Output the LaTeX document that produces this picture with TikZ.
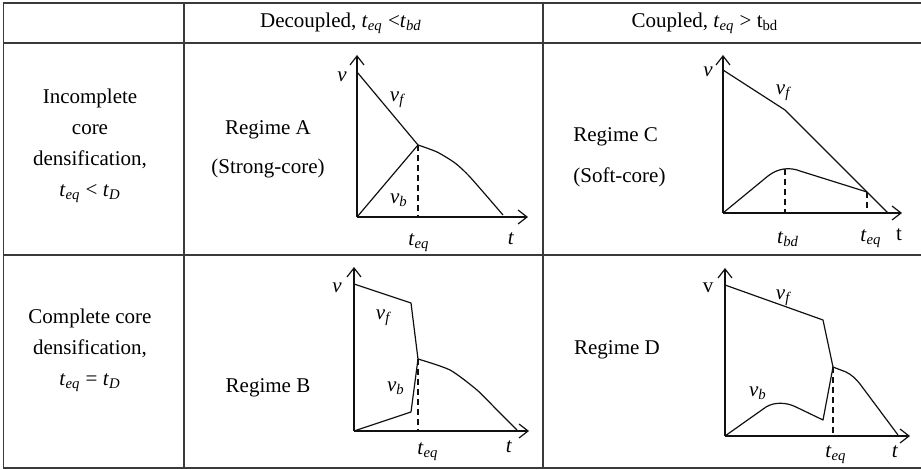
\documentclass[tikz,border=0pt]{standalone}
\usepackage{fontspec}
\setmainfont{Liberation Serif}
\usepackage{xcolor}
\usepackage{tikz}
\usetikzlibrary{arrows.meta}
\definecolor{GridGray}{HTML}{3A3A3A}
\definecolor{CurveBlack}{HTML}{111111}
\newcommand{\tsb}[2]{\textit{#1}\textsubscript{\textit{#2}}}

\begin{document}
\begin{tikzpicture}[
  x=0.5pt, y=-0.5pt,
  celltext/.style={align=center, inner sep=0pt, font=\fontsize{10.5}{15.5}\selectfont},
  plotlabel/.style={inner sep=0pt, font=\fontsize{10.5}{12}\selectfont},
  gridline/.style={draw=GridGray, line width=0.85pt},
  axisline/.style={-{Straight Barb[length=4.5pt,width=7pt]}, line width=0.6pt, draw=CurveBlack},
  curveline/.style={line width=0.6pt, draw=CurveBlack, line join=round},
  guideline/.style={dashed, dash pattern=on 3pt off 2pt, line width=0.55pt, draw=CurveBlack}
]
\useasboundingbox (0,0) rectangle (921,470);
% table grid
\draw[gridline] (3,3) -- (921,3);
\draw[gridline] (3,43) -- (921,43);
\draw[gridline] (3,255) -- (921,255);
\draw[gridline] (3,468) -- (921,468);
\draw[gridline] (3.5,3) -- (3.5,468);
\draw[gridline] (184,3) -- (184,468);
\draw[gridline] (543,3) -- (543,468);

% headers
\node[celltext] (hdec) at (341,23) {Decoupled, \tsb{t}{eq} <\tsb{t}{bd}};
\node[celltext] (hcou) at (705,23) {Coupled, \tsb{t}{eq} > t\textsubscript{bd}};

% row labels
\node[celltext] (incomp) at (90,146) {Incomplete\\core\\densification,\\\tsb{t}{eq} < \tsb{t}{D}};
\node[celltext] (comp) at (90,350) {Complete core\\densification,\\\tsb{t}{eq} = \tsb{t}{D}};

% regime names
\node[celltext] (regA) at (268,149) {Regime A\\[4pt](Strong-core)};
\node[celltext, anchor=west, align=left] (regC) at (573,157) {Regime C\\[5pt](Soft-core)};
\node[celltext] (regB) at (268,388) {Regime B};
\node[celltext] (regD) at (617,350) {Regime D};

% regime A
\draw[axisline] (357,217) -- (357,55);
\draw[axisline] (357,217) -- (528,217);
\coordinate (Ameet) at (418,145);
\draw[curveline] (357,72) -- (Ameet);
\draw[curveline] (357,217) -- (Ameet);
\draw[curveline] plot[smooth, tension=0.4] coordinates {(418,145) (437,152) (455,163) (470,177) (503,215)};
\draw[guideline] (Ameet) -- (418,217);
\node[plotlabel] (Av) at (342,77) {\textit{v}};
\node[plotlabel] (Avf) at (398,100) {\tsb{v}{f}};
\node[plotlabel] (Avb) at (399,200) {\tsb{v}{b}};
\node[plotlabel] (Ateq) at (419,243) {\tsb{t}{eq}};
\node[plotlabel] (At) at (511,239) {\textit{t}};

% regime C
\draw[axisline] (723,213) -- (723,55);
\draw[axisline] (723,213) -- (902,213);
\coordinate (Cpeak) at (785,169);
\coordinate (Cmeet) at (867,192);
\draw[curveline] (723,70) -- (785,110) -- (888,213);
\draw[curveline] (723,213) -- (768,176) .. controls (778,168) and (790,167) .. (800,171) -- (Cmeet);
\draw[guideline] (Cpeak) -- (785,213);
\draw[guideline] (Cmeet) -- (867,213);
\node[plotlabel] (Cv) at (708,72) {\textit{v}};
\node[plotlabel] (Cvf) at (784,93) {\tsb{v}{f}};
\node[plotlabel] (Ctbd) at (788,239) {\tsb{t}{bd}};
\node[plotlabel] (Cteq) at (871,239) {\tsb{t}{eq}};
\node[plotlabel] (Ct) at (899,235) {t};

% regime B
\draw[axisline] (354,431) -- (354,267);
\draw[axisline] (354,431) -- (529,431);
\coordinate (Bmeet) at (418,359);
\draw[curveline] (354,284) -- (411,303) -- (Bmeet);
\draw[curveline] (354,431) -- (411,412) -- (Bmeet);
\draw[curveline] plot[smooth, tension=0.4] coordinates {(418,359) (450,370) (477,390) (497,410) (517,430)};
\draw[guideline] (Bmeet) -- (418,431);
\node[plotlabel] (Bv) at (337,288) {\textit{v}};
\node[plotlabel] (Bvf) at (384,318) {\tsb{v}{f}};
\node[plotlabel] (Bvb) at (396,388) {\tsb{v}{b}};
\node[plotlabel] (Bteq) at (428,452) {\tsb{t}{eq}};
\node[plotlabel] (Bt) at (509,447) {\textit{t}};

% regime D
\draw[axisline] (725,436) -- (725,268);
\draw[axisline] (725,436) -- (910,436);
\coordinate (Dmeet) at (833,367);
\draw[curveline] (725,285) -- (823,320) -- (Dmeet);
\draw[curveline] (725,436) -- (766,407) .. controls (774,402) and (786,402) .. (796,407) -- (823,420) -- (Dmeet);
\draw[curveline] (Dmeet) -- (846,372) .. controls (852,375) and (856,379) .. (860,384) -- (898,435);
\draw[guideline] (Dmeet) -- (833,436);
\node[plotlabel] (Dv) at (708,288) {v};
\node[plotlabel] (Dvf) at (784,298) {\tsb{v}{f}};
\node[plotlabel] (Dvb) at (758,393) {\tsb{v}{b}};
\node[plotlabel] (Dteq) at (836,455) {\tsb{t}{eq}};
\node[plotlabel] (Dt) at (895,452) {\textit{t}};
\end{tikzpicture}
\end{document}
